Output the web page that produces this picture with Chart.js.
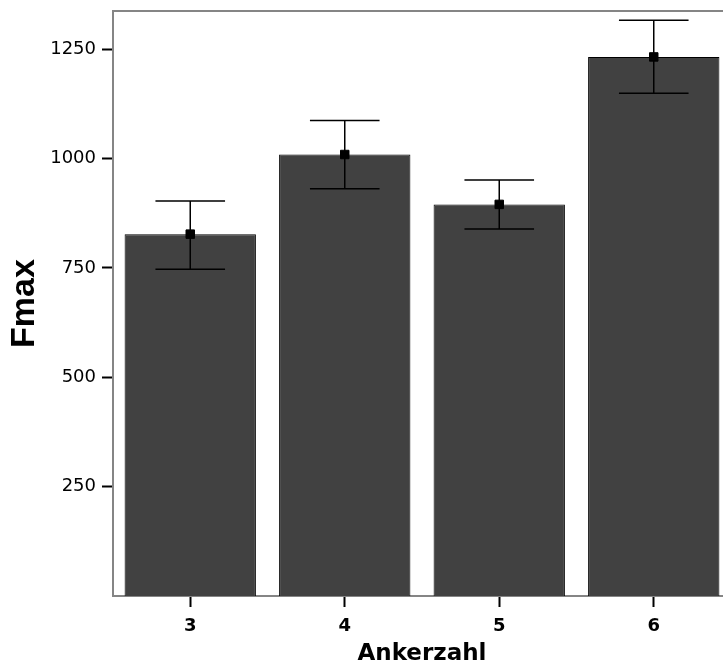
<!DOCTYPE html>
<html>
<head>
<meta charset="utf-8">
<title>Fmax nach Ankerzahl</title>
<script src="https://cdn.jsdelivr.net/npm/chart.js@4.4.1/dist/chart.umd.min.js"></script>
<style>
  html, body { margin: 0; padding: 0; background: #fff; overflow: hidden; }
  #wrap { position: relative; width: 760px; height: 666px; }
</style>
</head>
<body>
<div id="wrap"><canvas id="chart"></canvas></div>
<script>
// ===== Daten =====
const ankerzahl = ['3', '4', '5', '6'];
const fmaxMittel = [827, 1009, 895, 1232];
const fehlerOben = [903, 1087, 951, 1316];
const fehlerUnten = [747, 931, 839, 1149];
const yTicks = [250, 500, 750, 1000, 1250];

const GRAU_ACHSE = '#858585';
const BALKEN = '#414141';

// Fehlerbalken (über den Balken, unter den Mittelwert-Punkten)
const fehlerbalken = {
    id: 'fehlerbalken',
    afterDatasetDraw(chart, args) {
        if (args.index !== 0) return;
        const { ctx, scales: { y } } = chart;
        const meta = chart.getDatasetMeta(0);
        ctx.save();
        ctx.strokeStyle = '#000';
        ctx.lineWidth = 1.5;
        meta.data.forEach((bar, i) => {
            const x = bar.x;
            const half = bar.width * 0.265;
            const yHi = y.getPixelForValue(fehlerOben[i]);
            const yLo = y.getPixelForValue(fehlerUnten[i]);
            ctx.beginPath();
            ctx.moveTo(x, yHi); ctx.lineTo(x, yLo);
            ctx.moveTo(x - half, yHi); ctx.lineTo(x + half, yHi);
            ctx.moveTo(x - half, yLo); ctx.lineTo(x + half, yLo);
            ctx.stroke();
        });
        ctx.restore();
    }
};

// obere Rahmenlinie des Plotbereichs
const rahmenOben = {
    id: 'rahmenOben',
    afterDraw(chart) {
        const { ctx, chartArea: a } = chart;
        ctx.save();
        ctx.strokeStyle = GRAU_ACHSE;
        ctx.lineWidth = 2;
        ctx.beginPath();
        ctx.moveTo(a.left, a.top); ctx.lineTo(a.right + 2, a.top);
        ctx.stroke();
        ctx.restore();
    }
};

new Chart(document.getElementById('chart'), {
    type: 'bar',
    data: {
        labels: ankerzahl,
        datasets: [
            {
                type: 'bar',
                label: 'Fmax',
                data: fmaxMittel,
                backgroundColor: BALKEN,
                borderColor: '#000',
                borderWidth: 1,
                barPercentage: 0.85,
                categoryPercentage: 1,
                order: 2
            },
            {
                type: 'line',
                label: 'Mittelwert',
                data: fmaxMittel,
                showLine: false,
                pointStyle: 'rect',
                pointRadius: 6,
                pointBackgroundColor: '#000',
                pointBorderColor: '#000',
                pointBorderWidth: 1,
                order: 1
            }
        ]
    },
    options: {
        responsive: true,
        maintainAspectRatio: false,
        animation: false,
        layout: { padding: { top: 11, right: 29, left: 0, bottom: 0 } },
        plugins: { legend: { display: false }, tooltip: { enabled: false } },
        scales: {
            x: {
                afterFit: s => { s.height = 70; s.paddingLeft = 0; s.paddingRight = 0; },
                grid: { drawOnChartArea: false, offset: false, tickLength: 11, tickColor: '#000', tickWidth: 2 },
                border: { color: GRAU_ACHSE, width: 2 },
                ticks: { color: '#000', padding: 9, font: { family: 'DejaVu Sans', size: 18, weight: 'bold' } },
                title: {
                    display: true, text: 'Ankerzahl', color: '#000',
                    padding: { top: 0, bottom: 0 },
                    font: { family: 'DejaVu Sans', size: 23, weight: 'bold', lineHeight: 1 }
                }
            },
            y: {
                min: 0,
                max: 1337,
                afterFit: s => { s.width = 113; s.paddingTop = 0; s.paddingBottom = 0; },
                afterBuildTicks: s => { s.ticks = yTicks.map(v => ({ value: v })); },
                grid: { drawOnChartArea: false, tickLength: 11, tickColor: '#000', tickWidth: 2 },
                border: { color: GRAU_ACHSE, width: 2 },
                ticks: {
                    color: '#000', padding: 6,
                    font: { family: 'DejaVu Sans', size: 18 },
                    callback: v => String(v)
                },
                title: {
                    display: true, text: 'Fmax', color: '#000',
                    padding: { top: 4, bottom: 0 },
                    font: { family: 'Liberation Sans', size: 34, weight: 'bold' }
                }
            }
        }
    },
    plugins: [fehlerbalken, rahmenOben]
});
</script>
</body>
</html>
